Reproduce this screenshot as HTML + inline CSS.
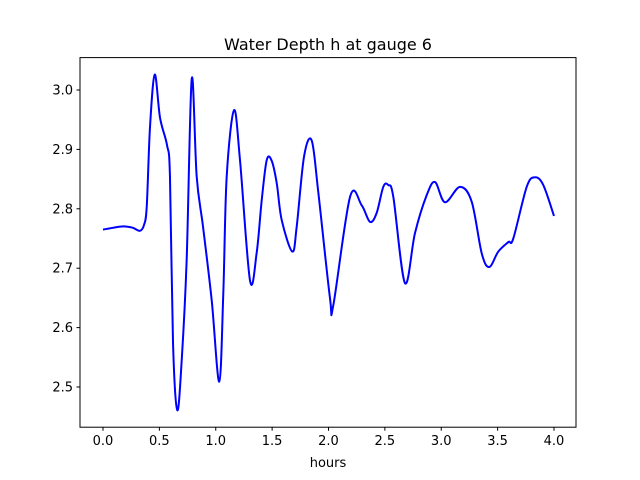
<!DOCTYPE html>
<html><head><meta charset="utf-8"><style>
body{margin:0;background:#fff}
svg{display:block;font-family:"DejaVu Sans","Liberation Sans",sans-serif}
</style></head><body>
<svg id="chart" width="640" height="480" viewBox="0 0 640 480">
<rect width="640" height="480" fill="#fff"/>
<text x="328" y="50" font-size="16" text-anchor="middle">Water Depth h at gauge 6</text>
<text x="328" y="467" font-size="13" text-anchor="middle">hours</text>
<g id="ticks"></g>
<path id="line" fill="none" stroke="#0000ff" stroke-width="2"/>
<rect x="80" y="57.6" width="496" height="369.6" fill="none" stroke="#000" stroke-width="1"/>
</svg>
<script>
const hours=[0.0,0.151,0.210,0.266,0.328,0.364,0.388,0.417,0.459,0.506,0.568,0.594,0.621,0.659,0.698,0.742,0.787,0.831,0.887,0.964,1.031,1.067,1.097,1.162,1.215,1.304,1.363,1.408,1.452,1.496,1.541,1.585,1.679,1.718,1.783,1.851,1.910,2.013,2.043,2.191,2.294,2.368,2.427,2.486,2.530,2.575,2.678,2.767,2.871,2.945,3.033,3.166,3.270,3.359,3.426,3.506,3.595,3.639,3.758,3.831,3.905,4.0];
const depth=[2.765,2.770,2.770,2.768,2.763,2.773,2.804,2.938,3.026,2.953,2.907,2.854,2.574,2.461,2.545,2.714,3.019,2.854,2.770,2.646,2.509,2.658,2.854,2.966,2.882,2.679,2.726,2.815,2.882,2.881,2.843,2.781,2.728,2.770,2.888,2.915,2.827,2.650,2.638,2.820,2.806,2.778,2.793,2.837,2.840,2.820,2.675,2.759,2.823,2.845,2.811,2.837,2.812,2.725,2.702,2.728,2.744,2.750,2.837,2.853,2.840,2.788];
const xTicks=["0.0","0.5","1.0","1.5","2.0","2.5","3.0","3.5","4.0"];
const yTicks=["2.5","2.6","2.7","2.8","2.9","3.0"];
const X=v=>103+v*112.75, Y=v=>90+(3.0-v)*594;
const ns="http://www.w3.org/2000/svg";
const g=document.getElementById('ticks');
function mk(t,a){const e=document.createElementNS(ns,t);for(const k in a)e.setAttribute(k,a[k]);g.appendChild(e);return e;}
xTicks.forEach(t=>{const x=X(+t);
 const l=mk('line',{x1:x,x2:x,y1:427.2,y2:430.7,stroke:'#000'});
 
 
 const s=mk('text',{x:x,y:445,'font-size':13,'text-anchor':'middle'});s.textContent=t;
 
 });
yTicks.forEach(t=>{const y=Y(+t);
 const l=mk('line',{x1:76.5,x2:80,y1:y,y2:y,stroke:'#000'});
 
 
 const s=mk('text',{x:73,y:y+4.5,'font-size':13,'text-anchor':'end'});s.textContent=t;
 
 });
const P=hours.map((h,i)=>[X(h),Y(depth[i])]);
let d='M'+P[0][0]+','+P[0][1];
for(let i=0;i<P.length-1;i++){const p0=P[Math.max(0,i-1)],p1=P[i],p2=P[i+1],p3=P[Math.min(P.length-1,i+2)];
 const c1=[p1[0]+(p2[0]-p0[0])/6,p1[1]+(p2[1]-p0[1])/6],c2=[p2[0]-(p3[0]-p1[0])/6,p2[1]-(p3[1]-p1[1])/6];
 d+=' C'+c1+' '+c2+' '+p2;}
document.getElementById('line').setAttribute('d',d);
</script>
</body></html>
